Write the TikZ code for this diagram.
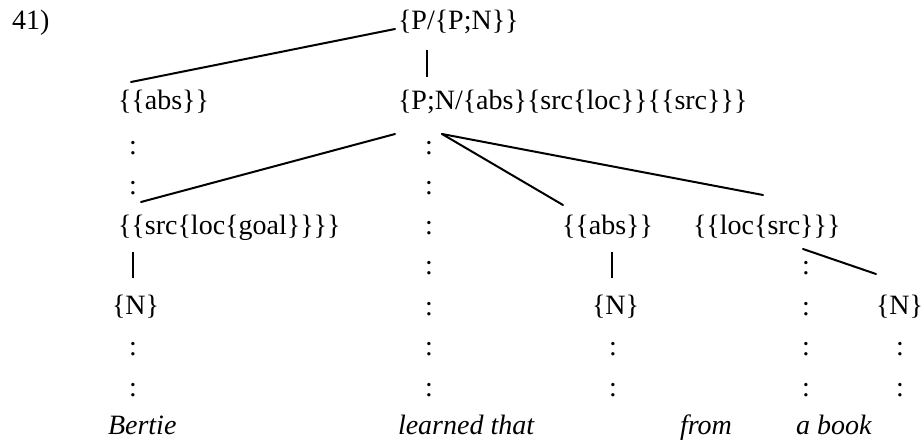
\documentclass[tikz,border=0pt]{standalone}
\usepackage{fontspec}
\setmainfont{Liberation Serif}
\usetikzlibrary{calc}
\begin{document}
\begin{tikzpicture}[x=0.5pt,y=-0.5pt,
  every node/.style={inner sep=0pt,outer sep=0pt,font=\fontsize{14}{16}\selectfont},
  lbl/.style={anchor=base west},
  wd/.style={anchor=base west,font=\fontsize{14}{16}\selectfont\itshape},
  colon/.style={anchor=base},
  edge/.style={line width=1pt,line cap=round},
  bar/.style={line width=0.65pt}]
\useasboundingbox (0,0) rectangle (924,444);
% labels
\node[lbl] (n41) at (12,30) {41)};
\node[lbl] (root) at (398,30) {\{P/\{P;N\}\}};
\node[lbl] (absL) at (118,110) {\{\{abs\}\}};
\node[lbl] (pn) at (398,110) {\{P;N/\{abs\}\{src\{loc\}\}\{\{src\}\}\}};
\node[lbl] (srcgoal) at (118,234) {\{\{src\{loc\{goal\}\}\}\}};
\node[lbl] (absR) at (562,234) {\{\{abs\}\}};
\node[lbl] (locsrc) at (693,234) {\{\{loc\{src\}\}\}};
\node[lbl] (N1) at (112,314) {\{N\}};
\node[lbl] (N2) at (592,314) {\{N\}};
\node[lbl] (N3) at (876,314) {\{N\}};
% words
\node[wd] (w1) at (108,434) {Bertie};
\node[wd] (w2) at (398,434) {learned that};
\node[wd] (w3) at (680,434) {from};
\node[wd] (w4) at (796,434) {a book};
% colons
\foreach \y/\n in {154/4,194/5,355/9,396/10} \node[colon] (cl\n) at (133,\y) {:};
\foreach \y/\n in {154/4,194/5,234/6,274/7,315/8,355/9,396/10} \node[colon] (cm\n) at (429,\y) {:};
\foreach \y/\n in {355/9,396/10} \node[colon] (cn\n) at (613,\y) {:};
\foreach \y/\n in {274/7,315/8,355/9,396/10} \node[colon] (cr\n) at (806,\y) {:};
\foreach \y/\n in {355/9,396/10} \node[colon] (cz\n) at (900,\y) {:};
% connectors
\draw[edge] ($(absL.base west)+(13,-28)$) -- ($(root.base west)+(-3,-1)$);
\draw[bar] ($(root.base west)+(29,20)$) -- ($(pn.base west)+(29,-33)$);
\draw[edge] ($(pn.base west)+(-3,24)$) -- ($(srcgoal.base west)+(23,-32)$);
\draw[edge] ($(pn.base west)+(44,24)$) -- ($(absR.base west)+(1,-29)$);
\draw[edge] ($(pn.base west)+(44,24)$) -- ($(locsrc.base west)+(70,-39)$);
\draw[edge] ($(locsrc.base west)+(110,15)$) -- ($(N3.base west)+(0,-40)$);
\draw[bar] ($(srcgoal.base west)+(15,18)$) -- ($(N1.base west)+(21,-36)$);
\draw[bar] ($(absR.base west)+(50,18)$) -- ($(N2.base west)+(20,-36)$);
\end{tikzpicture}
\end{document}
